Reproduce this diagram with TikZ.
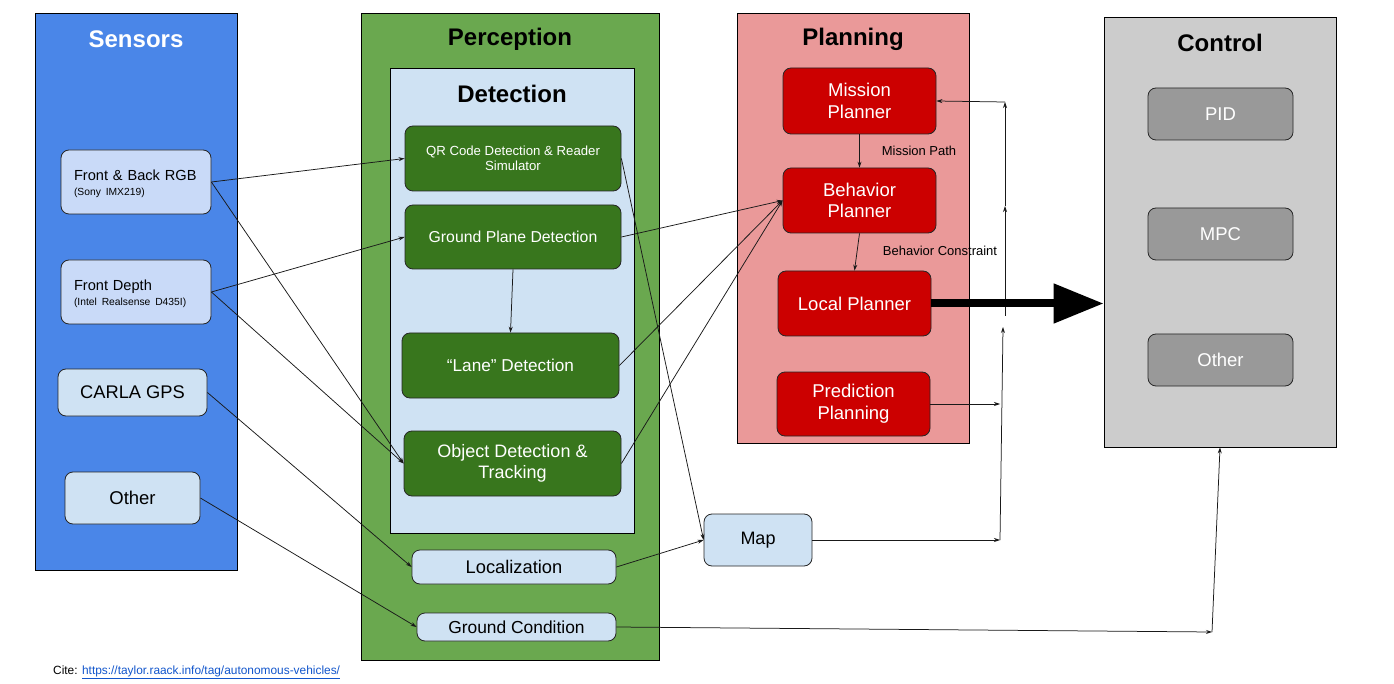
\documentclass[tikz,border=0pt]{standalone}
\usepackage{fontspec}
\setmainfont{Liberation Sans}
\usetikzlibrary{arrows.meta}
\definecolor{sensorblue}{HTML}{4A86E8}
\definecolor{percgreen}{HTML}{6AA84F}
\definecolor{lightblue}{HTML}{CFE2F3}
\definecolor{rgbblue}{HTML}{C9DAF8}
\definecolor{darkgreen}{HTML}{38761D}
\definecolor{planpink}{HTML}{EA9999}
\definecolor{planred}{HTML}{CC0000}
\definecolor{ctrlgray}{HTML}{CCCCCC}
\definecolor{boxgray}{HTML}{999999}
\definecolor{linkblue}{HTML}{1155CC}
\newcommand{\fs}[1]{\fontsize{#1pt}{1.2\dimexpr #1pt\relax}\selectfont}
\begin{document}
\begin{tikzpicture}[x=1pt,y=-1pt,
  panel/.style={draw=black, line width=0.8pt, rectangle, inner sep=0pt},
  rbox/.style={draw=black!85, line width=0.8pt, rectangle, rounded corners=8pt, inner sep=0pt, align=center},
  title/.style={font=\fs{24}\bfseries, inner sep=0pt},
  conn/.style={draw=black!90, line width=0.75pt, -{Stealth[length=6pt,width=4pt]}},
  lbl/.style={font=\fs{13}, inner sep=0pt}
]
\path[use as bounding box] (0,0) rectangle (1394,684);
\fill[white] (0,0) rectangle (1394,684);

% panels
\node[panel, fill=sensorblue, minimum width=202pt, minimum height=557pt] (sensors) at (136,291.5) {};
\node[panel, fill=percgreen, minimum width=298pt, minimum height=647pt] (perception) at (510,336.5) {};
\node[panel, fill=lightblue, minimum width=244pt, minimum height=465pt] (detection) at (512,300.5) {};
\node[panel, fill=planpink, minimum width=232pt, minimum height=430pt] (planning) at (853,228) {};
\node[panel, fill=ctrlgray, minimum width=232pt, minimum height=430pt] (control) at (1220,232) {};

\node[title, text=white] (sensorsT) at (136,39) {Sensors};
\node[title] (perceptionT) at (510,39) {Perception};
\node[title] (detectionT) at (512,94) {Detection};
\node[title] (planningT) at (853,39) {Planning};
\node[title] (controlT) at (1220,43) {Control};

% sensors
\node[rbox, fill=rgbblue, minimum width=150pt, minimum height=64pt, text width=124pt, align=left, font=\fs{14.6}] (rgb) at (136,182)
  {\rule{0pt}{14pt}Front \& Back RGB\\[-3pt]{\fs{10.3}(Sony IMX219)}};
\node[rbox, fill=rgbblue, minimum width=150pt, minimum height=64pt, text width=124pt, align=left, font=\fs{14.6}] (depth) at (136,292)
  {\rule{0pt}{14pt}Front Depth\\[-3pt]{\fs{10.3}(Intel Realsense D435I)}};
\node[rbox, fill=lightblue, minimum width=149pt, minimum height=47pt, font=\fs{18.3}] (gps) at (132.5,392.5) {CARLA GPS};
\node[rbox, fill=lightblue, minimum width=135pt, minimum height=52pt, font=\fs{18.5}] (others) at (132.5,498) {Other};

% detection
\node[rbox, fill=darkgreen, text=white, minimum width=216pt, minimum height=65pt, font=\fs{13.2}] (qr) at (513,158.5)
  {QR Code Detection \& Reader\\[-1pt]Simulator};
\node[rbox, fill=darkgreen, text=white, minimum width=216pt, minimum height=64pt, font=\fs{15.8}] (ground) at (513,237) {Ground Plane Detection};
\node[rbox, fill=darkgreen, text=white, minimum width=217pt, minimum height=65pt, font=\fs{17.2}] (lane) at (510.5,365.5) {“Lane” Detection};
\node[rbox, fill=darkgreen, text=white, minimum width=217pt, minimum height=65pt, font=\fs{18}] (object) at (512.5,463.5)
  {Object Detection \&\\[-1pt]Tracking};
\node[rbox, fill=lightblue, minimum width=204pt, minimum height=34pt, font=\fs{18.3}] (loc) at (514,567) {Localization};
\node[rbox, fill=lightblue, minimum width=199pt, minimum height=28pt, font=\fs{17.4}] (gcond) at (516.5,627) {Ground Condition};

% planning
\node[rbox, fill=planred, text=white, minimum width=153pt, minimum height=66pt, font=\fs{18.5}] (mission) at (859.5,101)
  {Mission\\[-0.5pt]Planner};
\node[rbox, fill=planred, text=white, minimum width=153pt, minimum height=65pt, font=\fs{18.5}] (behavior) at (859.5,200.5)
  {Behavior\\[-0.5pt]Planner};
\node[rbox, fill=planred, text=white, minimum width=153pt, minimum height=65pt, font=\fs{18.5}] (localpl) at (854.5,303.5) {Local Planner};
\node[rbox, fill=planred, text=white, minimum width=153pt, minimum height=64pt, font=\fs{18.5}] (pred) at (853.5,404)
  {Prediction\\[-0.5pt]Planning};

\node[rbox, fill=lightblue, minimum width=108pt, minimum height=52pt, font=\fs{18}] (map) at (758,540) {Map};

% control
\node[rbox, fill=boxgray, text=white, minimum width=145pt, minimum height=52pt, font=\fs{18.5}] (pid) at (1220.5,114) {PID};
\node[rbox, fill=boxgray, text=white, minimum width=145pt, minimum height=52pt, font=\fs{18.5}] (mpc) at (1220.5,234) {MPC};
\node[rbox, fill=boxgray, text=white, minimum width=145pt, minimum height=52pt, font=\fs{18.5}] (otherc) at (1220.5,360) {Other};

% labels
\node[lbl] (mpath) at (919,151) {Mission Path};
\node[lbl] (bcons) at (940,251) {Behavior Constraint};

% cite
\node[anchor=west, inner sep=0pt, font=\fs{11.9}] (cite) at (53,672)
  {Cite: \textcolor{linkblue}{\underline{https://taylor.raack.info/tag/autonomous-vehicles/}}};

% junction coordinates
\coordinate (c1) at (1000,540);
\coordinate (c2) at (1003,327);
\coordinate (c3) at (1005,316);
\coordinate (c4) at (1005,206);
\coordinate (c5) at (1005,102);
\coordinate (c6) at (1000,404);
\coordinate (c7) at (1212,632);

% connectors
\draw[conn] (rgb.east) -- (qr.west);
\draw[conn] (rgb.east) -- (object.west);
\draw[conn] (depth.east) -- (ground.west);
\draw[conn] (depth.east) -- (object.west);
\draw[conn] (gps.east) -- (loc.west);
\draw[conn] (others.east) -- (gcond.west);
\draw[conn] (qr.east) -- (map.west);
\draw[conn] (ground.east) -- (behavior.west);
\draw[conn] (lane.east) -- (behavior.west);
\draw[conn] (object.east) -- (behavior.west);
\draw[conn] (ground.south) -- (lane.north);
\draw[conn] (loc.east) -- (map.west);
\draw[conn] (mission.south) -- (behavior.north);
\draw[conn] (behavior.south) -- (localpl.north);
\draw[conn] (map.east) -- (c1);
\draw[conn] (c1) -- (c2);
\draw[conn] (c3) -- (c4);
\draw[conn] (c4) -- (c5);
\draw[conn] (c5) -- (mission.east);
\draw[conn] (pred.east) -- (c6);
\draw[conn] (gcond.east) -- (c7);
\draw[conn] (c7) -- (control.south);

\draw[line width=8pt, -{Triangle[length=50pt,width=38pt]}] (localpl.east) -- (localpl.east -| control.west);
\end{tikzpicture}
\end{document}
